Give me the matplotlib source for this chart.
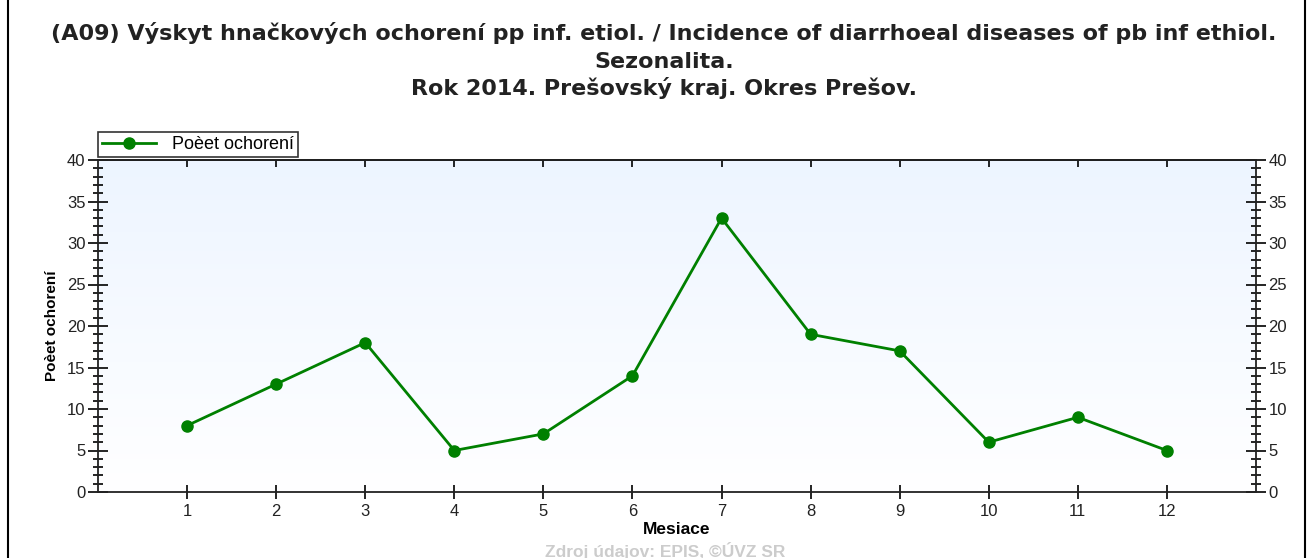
import numpy as np
import matplotlib.pyplot as plt
from matplotlib.ticker import MultipleLocator
from matplotlib.patches import Rectangle

# --- data -----------------------------------------------------------
months = [1, 2, 3, 4, 5, 6, 7, 8, 9, 10, 11, 12]
cases  = [8, 13, 18, 5, 7, 14, 33, 19, 17, 6, 9, 5]

title_lines = ["(A09) Výskyt hnačkových ochorení pp inf. etiol. / Incidence of diarrhoeal diseases of pb inf ethiol.",
               "Sezonalita.",
               "Rok 2014. Prešovský kraj. Okres Prešov."]
series_name = "Poèet ochorení"

plt.rcParams['font.family'] = ['Liberation Sans', 'DejaVu Sans']

fig = plt.figure(figsize=(13.09, 5.58), dpi=100)
fig.patch.set_facecolor("white")
W, H = 1309, 558

# outer frame
fig.add_artist(Rectangle((8 / W, -0.01), (1305 - 8) / W, 1.02, transform=fig.transFigure,
                         fill=False, edgecolor="black", linewidth=1.5))

ax = fig.add_axes([98 / W, 1 - 492 / H, (1256 - 98) / W, (492 - 160) / H])

# background gradient
grad = np.linspace(0, 1, 256).reshape(-1, 1)
top = np.array([0.93, 0.96, 1.0])
bot = np.array([1.0, 1.0, 1.0])
img = bot + (top - bot) * grad
ax.imshow(img[:, None, :].repeat(2, axis=1), extent=[0, 13, 0, 40], origin="lower",
          aspect="auto", zorder=0)

ax.plot(months, cases, color="#008000", linewidth=2, marker="o", markersize=8,
        label=series_name, zorder=3)

ax.set_xlim(0, 13)
ax.set_ylim(0, 40)
ax.set_xticks(months)
ax.yaxis.set_major_locator(MultipleLocator(5))
ax.yaxis.set_minor_locator(MultipleLocator(1))
ax.tick_params(axis="y", which="major", direction="inout", length=14, width=1.2,
               left=True, right=True, labelleft=True, labelright=True, labelsize=12,
               pad=2, labelcolor="#222222")
ax.tick_params(axis="y", which="minor", direction="inout", length=7, width=1.2,
               left=True, right=True)
ax.tick_params(axis="x", which="major", direction="inout", length=10, width=1.2,
               top=False, bottom=True, labelsize=12, pad=4, labelcolor="#222222")

# small inward ticks along the top edge
sec = ax.secondary_xaxis("top")
sec.set_xticks(months)
sec.tick_params(direction="in", length=5, width=1.2, labeltop=False)
sec.spines["top"].set_linewidth(1.3)

for s in ax.spines.values():
    s.set_linewidth(1.3)
    s.set_color("#222222")

ax.set_xlabel("Mesiace", fontsize=12.5, fontweight="bold", labelpad=2)
ax.set_ylabel(series_name, fontsize=11, fontweight="bold", labelpad=6)

leg = ax.legend(loc="lower left", bbox_to_anchor=(0.0, 1.01), frameon=True, fancybox=False,
                edgecolor="black", fontsize=13, handlelength=3.0, borderpad=0.2,
                borderaxespad=0, handletextpad=0.9)
leg.get_frame().set_linewidth(1.2)

for line, yc in zip(title_lines, [33, 62, 88]):
    fig.text(664 / W, 1 - yc / H, line, ha="center", va="center", fontsize=16,
             fontweight="bold", color="#222222", family="DejaVu Sans")
fig.text(665 / W, 1 - 560 / H, "Zdroj údajov: EPIS, ©ÚVZ SR", ha="center", va="bottom",
         fontsize=12.5, fontweight="bold", color="#cccccc")

fig.savefig("out.png", dpi=100)
